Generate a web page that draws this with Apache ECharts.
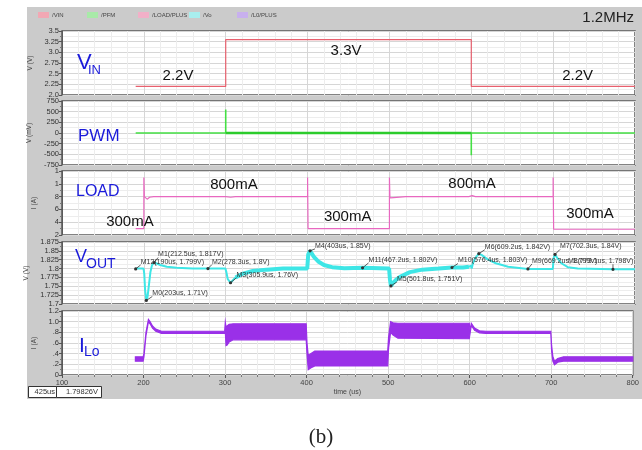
<!DOCTYPE html>
<html><head><meta charset="utf-8">
<script src="https://cdn.jsdelivr.net/npm/echarts@6/dist/echarts.min.js"></script>
<style>html,body{margin:0;padding:0;background:#fff}#c{width:642px;height:450px}</style>
</head><body><div id="c"></div>
<script>
// ---------- data ----------
const legendNames = ['/VIN', '/PFM', '/LOAD/PLUS', '/Vo', '/L0/PLUS'];
const xTickLabels = ['100', '200', '300', '400', '500', '600', '700', '800'];
const vinTicks = ['2.0', '2.25', '2.5', '2.75', '3.0', '3.25', '3.5'];
const pwmTicks = ['-750', '-500', '-250', '0', '250', '500', '750'];
const loadTicks = ['2', '4', '6', '8', '1', '1'];
const voutTicks = ['1.7', '1.725', '1.75', '1.775', '1.8', '1.825', '1.85', '1.875'];
const iloTicks = ['0', '.2', '.4', '.6', '.8', '1.0', '1.2'];

const vinT = [190, 300, 300, 600, 600, 800];
const vinV = [2.2, 2.2, 3.3, 3.3, 2.2, 2.2];

const pwmT = [190, 300, 300, 300, 600, 600, 600, 800];
const pwmV = [0, 0, 550, 0, 0, -520, 0, 0];

const loadT = [190, 200, 200, 200.6, 202, 204, 207, 212, 300, 302, 306, 312, 400, 400, 400.6, 500, 500, 500.6, 505, 520, 597, 601, 605, 700, 700, 700.6, 703, 710, 800];
const loadV = [0.3, 0.3, 1.1, 0.8, 0.77, 0.76, 0.79, 0.8, 0.8, 0.795, 0.79, 0.8, 0.8, 1.1, 0.3, 0.3, 1.1, 0.78, 0.785, 0.8, 0.8, 0.815, 0.8, 0.8, 1.1, 0.29, 0.28, 0.29, 0.29];

const voutT = [190, 199.6, 200.5, 201.5, 203, 204.5, 206, 208, 210, 212.5, 215, 220, 228, 240, 260, 299.6, 300.8, 302.5, 305.9, 308, 312, 320, 333, 350, 370, 399.6, 400.8, 403, 405, 408, 413, 420, 430, 445, 467.2, 499.6, 500.6, 501.8, 504, 508, 513, 525, 540, 560, 576.4, 590, 597, 599.5, 600.5, 602, 605, 609.2, 613, 620, 630, 645, 669.2, 699.6, 700.6, 702.3, 705, 710, 718, 730, 773, 800];
const voutV = [1.8, 1.8, 1.785, 1.74, 1.71, 1.72, 1.75, 1.79, 1.81, 1.817, 1.815, 1.81, 1.805, 1.802, 1.8, 1.8, 1.79, 1.77, 1.76, 1.765, 1.775, 1.785, 1.793, 1.797, 1.8, 1.8, 1.84, 1.85, 1.843, 1.832, 1.82, 1.81, 1.804, 1.801, 1.802, 1.8, 1.77, 1.751, 1.758, 1.768, 1.777, 1.79, 1.797, 1.8, 1.803, 1.803, 1.805, 1.808, 1.8, 1.815, 1.83, 1.842, 1.838, 1.826, 1.815, 1.805, 1.799, 1.799, 1.83, 1.84, 1.83, 1.815, 1.804, 1.8, 1.798, 1.798];

const iloT = [190, 199.5, 200.5, 203, 206, 208, 211, 215, 222, 299.5, 300.3, 301.2, 302.5, 305, 310, 399.5, 400.5, 402, 405, 410, 499.5, 500.5, 503, 506, 512, 599.5, 600.5, 602, 606, 612, 620, 699.5, 700.5, 702, 704, 708, 715, 800];
const iloUpper = [0.34, 0.34, 0.4, 0.8, 1.04, 1.0, 0.92, 0.86, 0.82, 0.82, 0.99, 0.9, 0.92, 0.95, 0.96, 0.96, 0.6, 0.36, 0.4, 0.45, 0.45, 0.7, 1.0, 0.98, 0.97, 0.97, 0.83, 0.97, 0.88, 0.83, 0.82, 0.82, 0.55, 0.35, 0.26, 0.31, 0.34, 0.34];
const iloLower = [0.26, 0.26, 0.34, 0.74, 1.0, 0.96, 0.88, 0.82, 0.78, 0.78, 0.8, 0.55, 0.56, 0.62, 0.66, 0.66, 0.4, 0.1, 0.13, 0.17, 0.17, 0.5, 0.8, 0.75, 0.69, 0.68, 0.78, 0.93, 0.84, 0.79, 0.78, 0.78, 0.45, 0.26, 0.19, 0.24, 0.26, 0.26];

const markerNames = ['M12', 'M0', 'M1', 'M2', 'M3', 'M4', 'M11', 'M5', 'M10', 'M6', 'M9', 'M7', 'M8'];
const markerT = [190, 203, 212.5, 278.3, 305.9, 403, 467.2, 501.8, 576.4, 609.2, 669.2, 702.3, 773.1];
const markerV = [1.799, 1.71, 1.817, 1.8, 1.76, 1.85, 1.802, 1.751, 1.803, 1.842, 1.799, 1.84, 1.798];

const vinNoteT = [241.7, 447, 730];
const vinNoteV = [2.445, 3.03, 2.445];
const vinNoteText = ['2.2V', '3.3V', '2.2V'];

const loadNoteT = [310, 183, 601, 449, 745];
const loadNoteV = [0.98, 0.40, 1.0, 0.48, 0.53];
const loadNoteText = ['800mA', '300mA', '800mA', '300mA', '300mA'];

const freqText = '1.2MHz';
const cursorTime = '425us';
const cursorValue = '1.79826V';

// ---------- styles / layout ----------
const markerOffsets = [[5,-7],[6,-7],[4,-8],[4,-7],[6,-8],[5,-5],[6,-8],[6,-7],[6,-7],[6,-7],[4,-8],[5,-8],[-45,-8]];
const colors = { vin: '#e8606e', pwm: '#44e044', pwmThick: '#2ccc2c', load: '#e868c0', vo: '#3ee6e6', ilo: '#9a30e8' };
const legendIconColors = ['#f2a8b4', '#a8eaa8', '#f2b0c8', '#a8eeee', '#c8b0ee'];
const legendLeft = [38, 87, 138, 189, 237];
const FONT = 'Liberation Sans, Arial, sans-serif';

const panels = [
  { top: 31, height: 64, min: 2, max: 3.5, interval: 0.25, ticks: vinTicks, name: 'V (V)' },
  { top: 101, height: 64, min: -750, max: 750, interval: 250, ticks: pwmTicks, name: 'V (mV)' },
  { top: 171, height: 64, min: 0.2, max: 1.2, interval: 0.2, ticks: loadTicks, name: 'I (A)' },
  { top: 242, height: 62, min: 1.7, max: 1.875, interval: 0.025, ticks: voutTicks, name: 'V (V)' },
  { top: 311, height: 64, min: 0, max: 1.2, interval: 0.2, ticks: iloTicks, name: 'I (A)' }
];

const pairs = (t, v) => t.map((x, i) => [x, v[i]]);

const grid = panels.map(p => ({
  left: 62, width: 573, top: p.top, height: p.height, show: true,
  backgroundColor: '#ffffff', borderColor: '#5a5a5a', borderWidth: 1.5
}));

const xAxis = panels.map((p, i) => ({
  type: 'value', gridIndex: i, min: 100, max: 800, interval: 100,
  axisLine: { show: false },
  axisTick: { show: i === 4, length: 3, inside: false, lineStyle: { color: '#555' } },
  minorTick: { show: i === 4, splitNumber: 5, length: 2, lineStyle: { color: '#777' } },
  axisLabel: {
    show: i === 4, fontSize: 7.5, color: '#444', fontFamily: FONT, margin: 4,
    formatter: v => xTickLabels[Math.round((v - 100) / 100)]
  },
  splitLine: { show: true, lineStyle: { color: '#d6d6d6', width: 1 } },
  minorSplitLine: { show: true, lineStyle: { color: '#ededed', width: 1 } },
  name: i === 4 ? 'time (us)' : '', nameLocation: 'middle', nameGap: 14,
  nameTextStyle: { fontSize: 7, color: '#444', fontFamily: FONT }
}));

const yAxis = panels.map((p, i) => ({
  type: 'value', gridIndex: i, min: p.min, max: p.max, interval: p.interval,
  axisLine: { show: true, lineStyle: { color: '#5a5a5a', width: 1 } },
  axisTick: { show: true, length: 3, lineStyle: { color: '#555' } },
  minorTick: { show: true, splitNumber: 2, length: 2, lineStyle: { color: '#777' } },
  axisLabel: {
    fontSize: 7.5, color: '#333', fontFamily: FONT, margin: 3,
    formatter: v => p.ticks[Math.round((v - p.min) / p.interval)]
  },
  splitLine: { show: true, lineStyle: { color: '#d6d6d6', width: 1 } },
  minorSplitLine: { show: true, lineStyle: { color: '#ededed', width: 1 } },
  name: p.name, nameLocation: 'middle', nameRotate: 90, nameGap: 24,
  nameTextStyle: { fontSize: 6.5, color: '#444', fontFamily: FONT }
}));

const lineSeries = (name, xi, data, color, width, extra) => Object.assign({
  type: 'line', name, xAxisIndex: xi, yAxisIndex: xi, data, showSymbol: false, symbol: 'none',
  lineStyle: { color, width }, itemStyle: { color }, animation: false, silent: true
}, extra || {});

const vo = pairs(voutT, voutV);
const pwm = pairs(pwmT, pwmV);

const noteSeries = (xi, t, v, txt) => ({
  type: 'custom', xAxisIndex: xi, yAxisIndex: xi, silent: true, animation: false, z: 6,
  data: t.map((x, i) => [x, v[i]]),
  renderItem: (params, api) => {
    const pt = api.coord([api.value(0), api.value(1)]);
    return { type: 'text', style: { text: txt[params.dataIndex], x: pt[0], y: pt[1], align: 'center', verticalAlign: 'middle', fontSize: 15, fontFamily: FONT, fill: '#111' } };
  }
});

const series = [
  lineSeries('/VIN', 0, pairs(vinT, vinV), colors.vin, 1.2),
  lineSeries('/PFM', 1, pwm, colors.pwm, 1.6),
  lineSeries('/PFM', 1, pwm.filter(d => d[0] >= 300 && d[0] <= 600 && d[1] === 0), colors.pwmThick, 2.6),
  lineSeries('/LOAD/PLUS', 2, pairs(loadT, loadV), colors.load, 1.2),
  lineSeries('/Vo', 3, vo, colors.vo, 2),
  lineSeries('/Vo', 3, vo.filter(d => d[0] >= 310 && d[0] <= 598), colors.vo, 4),
  {
    type: 'custom', name: '/L0/PLUS', xAxisIndex: 4, yAxisIndex: 4, silent: true, animation: false,
    itemStyle: { color: colors.ilo },
    data: iloT.map((t, i) => [t, iloUpper[i], iloLower[i]]),
    encode: { x: 0, y: [1, 2] },
    renderItem: (params, api) => {
      if (params.dataIndex !== 0) return null;
      const up = iloT.map((t, i) => api.coord([t, iloUpper[i]]));
      const lo = iloT.map((t, i) => api.coord([t, iloLower[i]])).reverse();
      return { type: 'polygon', shape: { points: up.concat(lo) }, style: { fill: colors.ilo, stroke: colors.ilo, lineWidth: 1.2 } };
    }
  },
  {
    type: 'custom', xAxisIndex: 3, yAxisIndex: 3, silent: true, animation: false, z: 5,
    data: markerT.map((t, i) => [t, markerV[i]]),
    renderItem: (params, api) => {
      const i = params.dataIndex;
      const pt = api.coord([api.value(0), api.value(1)]);
      const off = markerOffsets[i];
      const label = markerNames[i] + '(' + markerT[i] + 'us, ' + markerV[i] + 'V)';
      return { type: 'group', children: [
        { type: 'line', shape: { x1: pt[0], y1: pt[1], x2: pt[0] + (off[0] > 0 ? off[0] : 0), y2: pt[1] + off[1] + 3 }, style: { stroke: '#333', lineWidth: 0.8 } },
        { type: 'circle', shape: { cx: pt[0], cy: pt[1], r: 1.6 }, style: { fill: '#333' } },
        { type: 'text', style: { text: label, x: pt[0] + off[0], y: pt[1] + off[1], verticalAlign: 'middle', fontSize: 7, fontFamily: FONT, fill: '#333' } }
      ] };
    }
  },
  noteSeries(0, vinNoteT, vinNoteV, vinNoteText),
  noteSeries(2, loadNoteT, loadNoteV, loadNoteText)
];

const legend = legendNames.map((n, i) => ({
  data: [{ name: n, itemStyle: { color: legendIconColors[i] } }],
  left: legendLeft[i], top: 12, itemWidth: 11, itemHeight: 6, padding: 0,
  icon: 'rect', selectedMode: false,
  textStyle: { fontSize: 6, color: '#444', fontFamily: FONT, padding: [0, 0, 0, -2] }
}));

const blue = '#1a1ada';
const txt = (text, x, y, size, extra) => ({ type: 'text', z: 100, style: Object.assign({ text, x, y, verticalAlign: 'middle', fontSize: size, fontFamily: FONT, fill: blue }, extra || {}) });
const graphic = [
  { type: 'rect', z: -10, shape: { x: 27, y: 7, width: 615, height: 392 }, style: { fill: '#cbcbcb' } },
  txt(freqText, 634, 18, 15, { align: 'right', fill: '#222' }),
  txt('V', 77, 63, 22), txt('IN', 88, 70, 13),
  txt('PWM', 78, 136, 17),
  txt('LOAD', 76, 192, 16),
  txt('V', 75, 257, 18), txt('OUT', 86, 264, 14),
  txt('I', 79, 346, 21), txt('Lo', 84, 352, 14),
  { type: 'rect', z: 100, shape: { x: 28.5, y: 386.5, width: 28, height: 11 }, style: { fill: '#fff', stroke: '#333', lineWidth: 1 } },
  { type: 'rect', z: 100, shape: { x: 56.5, y: 386.5, width: 45, height: 11 }, style: { fill: '#fff', stroke: '#333', lineWidth: 1 } },
  txt(cursorTime, 55, 392, 7.5, { align: 'right', fill: '#333' }),
  txt(cursorValue, 98, 392, 7.5, { align: 'right', fill: '#333' }),
  txt('(b)', 321, 437, 21, { align: 'center', fill: '#222', fontFamily: 'Liberation Serif, DejaVu Serif, serif' })
];

const chart = echarts.init(document.getElementById('c'), null, { renderer: 'canvas' });
chart.setOption({ animation: false, grid, xAxis, yAxis, series, legend, graphic });
</script></body></html>
